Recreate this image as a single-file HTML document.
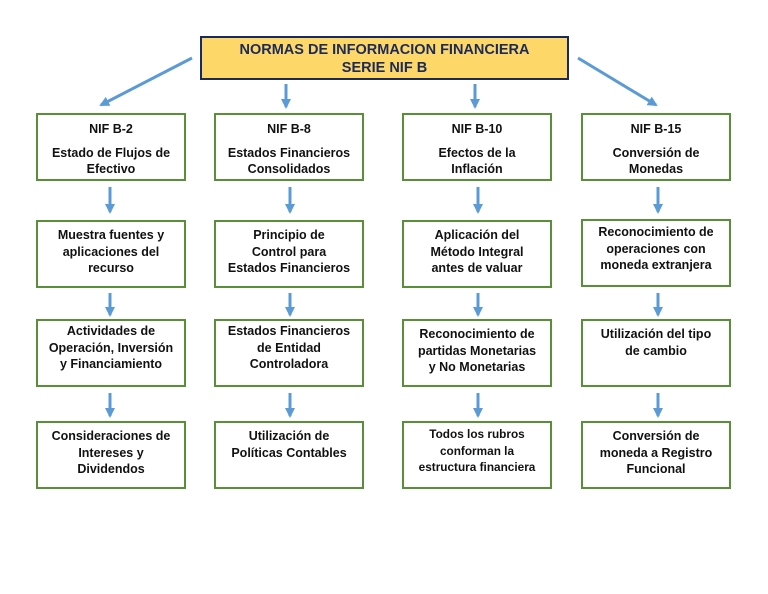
<!DOCTYPE html>
<html><head><meta charset="utf-8"><style>
body{margin:0;width:768px;height:594px;background:#fff;position:relative;overflow:hidden;font-family:"Liberation Sans",sans-serif}
.t{position:absolute;left:200px;top:36px;width:369px;height:44px;box-sizing:border-box;background:#fdd768;border:2px solid #1c2a5a;color:#1c2a5a;font-weight:bold;font-size:14.5px;line-height:18px;text-align:center;padding-top:3px}
.b{position:absolute;width:150px;height:68px;box-sizing:border-box;border:2px solid #5a8f3a;font-weight:bold;font-size:12.5px;line-height:16.5px;text-align:center;color:#111;padding-top:5px;white-space:nowrap}
.h{display:block;margin:1px 0 7px}
</style></head><body>
<div class="t">NORMAS DE INFORMACION FINANCIERA<br>SERIE NIF B</div>
<svg width="768" height="594" style="position:absolute;left:0;top:0">
<defs><marker id="a" markerWidth="10" markerHeight="10" refX="8" refY="5" orient="auto" markerUnits="userSpaceOnUse"><path d="M0,0 L10,5 L0,10 z" fill="#5b9bd5"/></marker></defs>
<g stroke="#5b9bd5" stroke-width="3" marker-end="url(#a)">
<line x1="192" y1="58" x2="101" y2="105"/>
<line x1="286" y1="84" x2="286" y2="107"/>
<line x1="475" y1="84" x2="475" y2="107"/>
<line x1="578" y1="58" x2="656" y2="105"/>
<line x1="110" y1="187" x2="110" y2="212"/><line x1="290" y1="187" x2="290" y2="212"/><line x1="478" y1="187" x2="478" y2="212"/><line x1="658" y1="187" x2="658" y2="212"/>
<line x1="110" y1="293" x2="110" y2="315"/><line x1="290" y1="293" x2="290" y2="315"/><line x1="478" y1="293" x2="478" y2="315"/><line x1="658" y1="293" x2="658" y2="315"/>
<line x1="110" y1="393" x2="110" y2="416"/><line x1="290" y1="393" x2="290" y2="416"/><line x1="478" y1="393" x2="478" y2="416"/><line x1="658" y1="393" x2="658" y2="416"/>
</g></svg>
<div class="b" style="left:36px;top:113px"><span class="h">NIF B-2</span>Estado de Flujos de<br>Efectivo</div>
<div class="b" style="left:214px;top:113px"><span class="h">NIF B-8</span>Estados Financieros<br>Consolidados</div>
<div class="b" style="left:402px;top:113px"><span class="h">NIF B-10</span>Efectos de la<br>Inflación</div>
<div class="b" style="left:581px;top:113px"><span class="h">NIF B-15</span>Conversión de<br>Monedas</div>
<div class="b" style="left:36px;top:220px">Muestra fuentes y<br>aplicaciones del<br>recurso</div>
<div class="b" style="left:214px;top:220px">Principio de<br>Control para<br>Estados Financieros</div>
<div class="b" style="left:402px;top:220px">Aplicación del<br>Método Integral<br>antes de valuar</div>
<div class="b" style="left:581px;top:219px;padding-top:3px">Reconocimiento de<br>operaciones con<br>moneda extranjera</div>
<div class="b" style="left:36px;top:319px;padding-top:2px">Actividades de<br>Operación, Inversión<br>y Financiamiento</div>
<div class="b" style="left:214px;top:319px;padding-top:2px">Estados Financieros<br>de Entidad<br>Controladora</div>
<div class="b" style="left:402px;top:319px">Reconocimiento de<br>partidas Monetarias<br>y No Monetarias</div>
<div class="b" style="left:581px;top:319px">Utilización del tipo<br>de cambio</div>
<div class="b" style="left:36px;top:421px">Consideraciones de<br>Intereses y<br>Dividendos</div>
<div class="b" style="left:214px;top:421px">Utilización de<br>Políticas Contables</div>
<div class="b" style="left:402px;top:421px;font-size:11.8px;padding-top:3px">Todos los rubros<br>conforman la<br>estructura financiera</div>
<div class="b" style="left:581px;top:421px">Conversión de<br>moneda a Registro<br>Funcional</div>
</body></html>
